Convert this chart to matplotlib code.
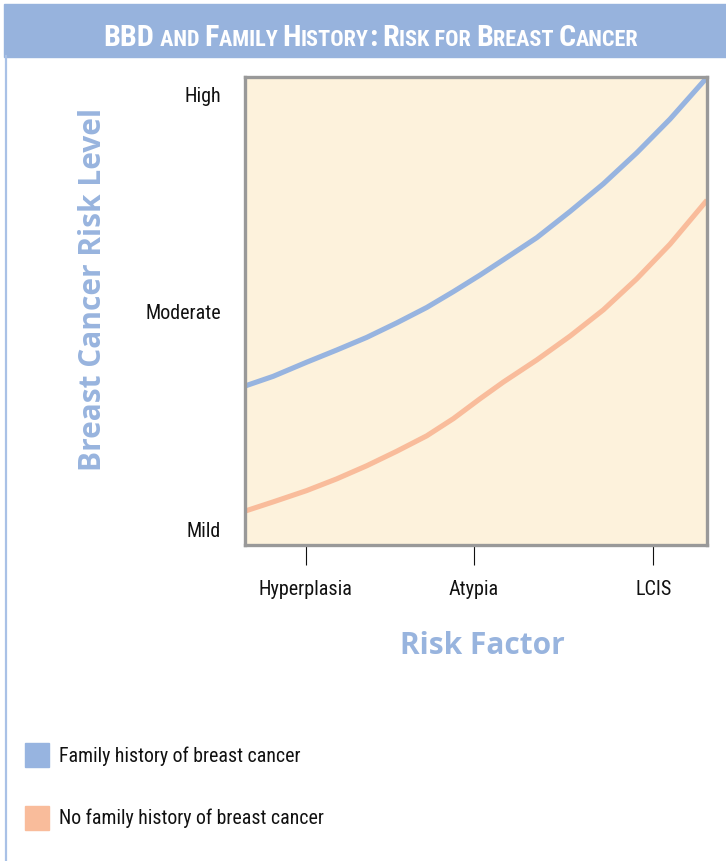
import matplotlib
matplotlib.use("Agg")
import logging
import matplotlib.pyplot as plt
from matplotlib.patches import Rectangle
from matplotlib.lines import Line2D

logging.getLogger("matplotlib.font_manager").setLevel(logging.ERROR)

# data (0-100 scales)
risk_factor = [0, 6.2, 13.4, 19.9, 26.4, 32.9, 39.4, 45.2, 50.9,
               56.0, 63.2, 70.4, 77.6, 84.8, 92.0, 100]
family_history = [33.9, 36.0, 39.0, 41.6, 44.3, 47.4, 50.7, 54.1, 57.6,
                  60.9, 65.6, 71.2, 77.1, 83.7, 90.9, 99.8]
no_family_history = [7.2, 9.2, 11.6, 14.1, 16.9, 20.0, 23.3, 27.0, 31.2,
                     34.8, 39.5, 44.6, 50.2, 56.8, 64.2, 73.6]

x_tick_pos = [13.2, 49.6, 88.4]
x_tick_labels = ["Hyperplasia", "Atypia", "LCIS"]
y_tick_pos = [3.5, 50, 96.3]
y_tick_labels = ["Mild", "Moderate", "High"]

series_labels = ["Family history of breast cancer", "No family history of breast cancer"]
series_colors = ["#97b4e0", "#f9bc9b"]

title = "BBD and Family History: Risk for Breast Cancer"

W, H = 726, 862
narrow = ["Liberation Sans Narrow", "Roboto Condensed", "Open Sans Condensed",
          "Noto Sans Condensed", "DejaVu Sans Condensed", "Roboto"]
label_font = ["Open Sans", "DejaVu Sans"]
label_color = "#98b4de"
ink = "#111111"

fig = plt.figure(figsize=(W / 100, H / 100), dpi=100)
renderer = fig.canvas.get_renderer()


def fx(px):
    return px / W


def fy(py):
    return 1 - py / H


def text_width(txt, size, **props):
    # width with trailing/leading spaces counted
    a = fig.text(0, 0, "X" + txt + "X", fontsize=size, **props)
    b = fig.text(0, 0, "XX", fontsize=size, **props)
    w = a.get_window_extent(renderer).width - b.get_window_extent(renderer).width
    a.remove()
    b.remove()
    return w


def fit_size(txt, target_px, max_size, **props):
    return min(max_size, 10 * target_px / text_width(txt, 10, **props))


nprops = dict(family=narrow, fontstretch="condensed")
tick_size = fit_size("Hyperplasia", 94, 16.5, **nprops)
legend_size = fit_size(series_labels[0], 240, 16.5, **nprops)

# header band + left border line
fig.patches.append(Rectangle((fx(4), fy(57.5)), fx(726 - 4), 52.5 / H,
                             transform=fig.transFigure, color="#97b3dd", zorder=0))
fig.lines.append(Line2D([fx(5.8), fx(5.8)], [fy(57), 0], transform=fig.transFigure,
                        color="#a9c1e6", lw=1.6))

ax = fig.add_axes([fx(244.5), fy(546), 462.5 / W, 468.5 / H])
ax.set_facecolor("#fdf2dc")
ax.plot(risk_factor, family_history, color=series_colors[0], lw=3.7, solid_capstyle="butt")
ax.plot(risk_factor, no_family_history, color=series_colors[1], lw=3.7, solid_capstyle="butt")
ax.set_xlim(0, 100)
ax.set_ylim(0, 100)
for s in ax.spines.values():
    s.set_color("#999999")
    s.set_linewidth(2.4)

ax.set_xticks(x_tick_pos)
ax.set_xticklabels(x_tick_labels, fontsize=tick_size, color=ink, **nprops)
ax.set_yticks(y_tick_pos)
ax.set_yticklabels(y_tick_labels, fontsize=tick_size, color=ink, **nprops)
ax.tick_params(axis="x", length=14.5, width=0.8, color=ink, pad=10)
ax.tick_params(axis="y", length=0, pad=17)

ax.set_xlabel("Risk Factor", family=label_font, fontweight="bold", fontsize=21.5,
              color=label_color, va="center")
ax.xaxis.set_label_coords((482 - 244.5) / 462.5, (546 - 646) / 468.5)
ax.set_ylabel("Breast Cancer Risk Level", family=label_font, fontweight="bold", fontsize=21.5,
              color=label_color, va="center")
ax.yaxis.set_label_coords((93 - 244.5) / 462.5, (546 - 289) / 468.5)

# legend, drawn by hand
legend_y = [756, 818.5]
for lab, col, ly in zip(series_labels, series_colors, legend_y):
    fig.patches.append(Rectangle((fx(25), fy(ly + 12)), 24 / W, 24 / H,
                                 transform=fig.transFigure, color=col))
    fig.text(fx(59), fy(ly), lab, fontsize=legend_size, color=ink,
             va="center", ha="left", **nprops)

# title in small caps: capitals big, the rest as smaller capitals
runs = []
for ch in title:
    big = ch.isupper() or ch == ":"
    txt = ch.upper()
    if runs and runs[-1][1] == big:
        runs[-1][0] += txt
    else:
        runs.append([txt, big])

tprops = dict(family=narrow, fontstretch="condensed", fontweight="bold",
              color="white", va="baseline")
big_size, small_size = 25.0, 18.5
total = sum(text_width(t, big_size if b else small_size, **tprops) for t, b in runs)
scale = min(1.0, 537 / total)
big_size *= scale
small_size *= scale
widths = [text_width(t, big_size if b else small_size, **tprops) for t, b in runs]
x0 = 371 - sum(widths) / 2
for (t, b), w in zip(runs, widths):
    fig.text(fx(x0), fy(46.5), t, fontsize=big_size if b else small_size, **tprops)
    x0 += w

fig.savefig("out.png", dpi=100)
